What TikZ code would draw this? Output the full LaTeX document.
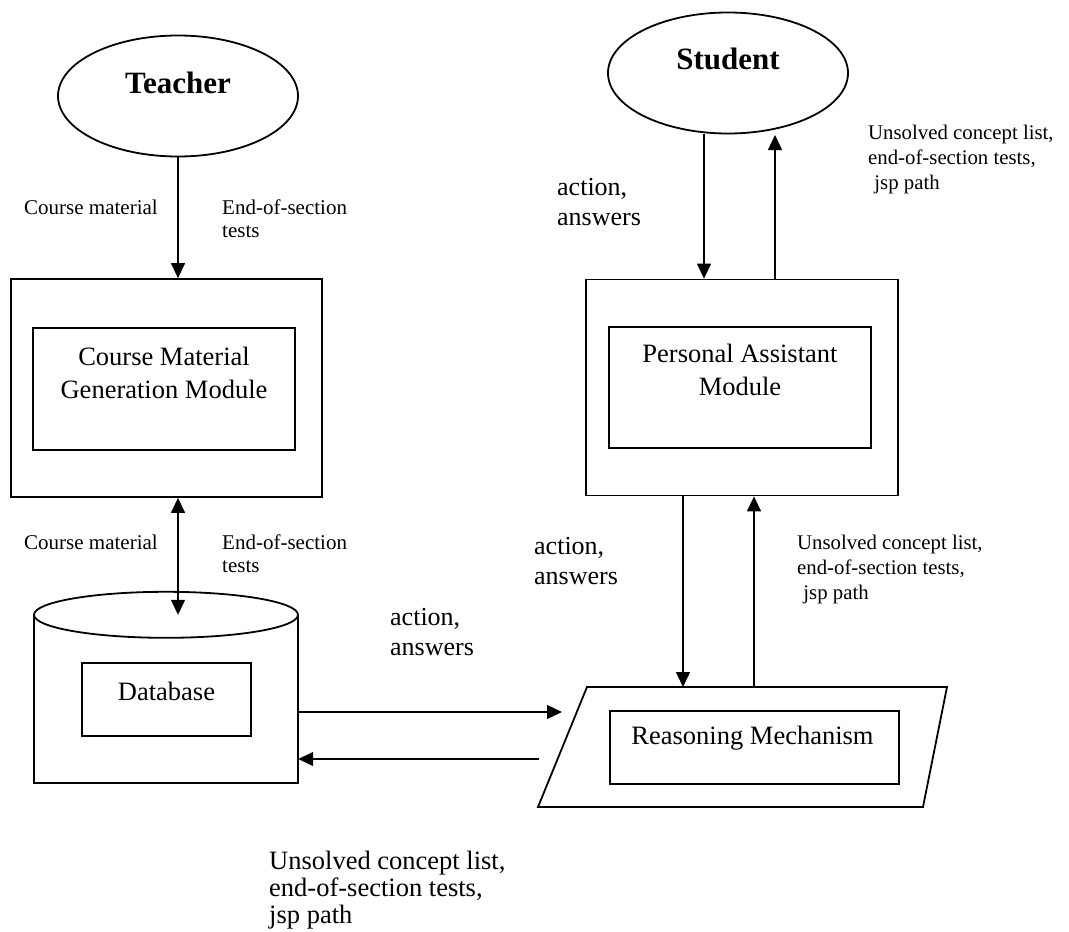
\documentclass[tikz,border=0pt]{standalone}
\usepackage{fontspec}
\setmainfont{Liberation Serif}
\usetikzlibrary{arrows.meta,shapes.geometric}
\begin{document}
\begin{tikzpicture}[x=1pt,y=-1pt,
  ink/.style={draw, line width=1.8pt},
  actor/.style={ink, ellipse, minimum width=240pt, minimum height=121pt, inner sep=0pt},
  frame/.style={ink, rectangle, inner sep=0pt},
  actortext/.style={inner sep=0pt, font=\bfseries\fontsize{31}{36}\selectfont},
  boxtext/.style={inner sep=0pt, align=center, font=\fontsize{26.5}{32.5}\selectfont},
  note/.style={inner sep=0pt, align=left, anchor=north west},
  fs21/.style={font=\fontsize{21}{23}\selectfont},
  fs20/.style={font=\fontsize{20.8}{25}\selectfont},
  fs26/.style={font=\fontsize{26}{29.5}\selectfont},
  fs26b/.style={font=\fontsize{26.5}{27.3}\selectfont},
  tip/.tip={Triangle[length=15pt,width=14pt]},
  flow/.style={line width=1.4pt, -tip},
  biflow/.style={line width=1.4pt, tip-tip}
]
\fill[white] (0,0) rectangle (1069,932);
\useasboundingbox (0,0) rectangle (1069,932);

% actors
\node[actor] (teacher) at (178,96) {};
\node[actortext] (teachertxt) at (178,83) {Teacher};
\node[actor] (student) at (728,73) {};
\node[actortext] (studenttxt) at (728,59) {Student};

% course material generation module
\node[frame, minimum width=311pt, minimum height=218pt] (cmg) at (166.5,388) {};
\node[frame, minimum width=262pt, minimum height=122pt] (cmgin) at (164,389) {};
\node[boxtext, anchor=north] (cmgtxt) at (164,347) {Course Material\\Generation Module};

% personal assistant module
\node[frame, minimum width=312pt, minimum height=216pt] (pa) at (742,387.5) {};
\node[frame, minimum width=262pt, minimum height=121pt] (pain) at (740,387.5) {};
\node[boxtext, anchor=north] (patxt) at (740,344) {Personal Assistant\\Module};

% database cylinder
\node[minimum width=264pt, minimum height=168pt, inner sep=0pt] (db) at (166,699) {};
\draw[ink] (db.north west) -- (db.south west) -- (db.south east) -- (db.north east);
\draw[ink, fill=white] (db.north) ellipse [x radius=132pt, y radius=23pt];
\node[frame, minimum width=169pt, minimum height=73pt] (dbin) at (166.5,699.5) {};
\node[boxtext] (dbtxt) at (166.5,691) {Database};

% reasoning mechanism
\coordinate (rmtl) at (587,687);
\coordinate (rmtr) at (947,687);
\coordinate (rmbr) at (923,807);
\coordinate (rmbl) at (538,807);
\draw[ink, line join=miter] (rmtl) -- (rmtr) -- (rmbr) -- (rmbl) -- cycle;
\node[frame, minimum width=289pt, minimum height=73pt] (rmin) at (754.5,747.5) {};
\node[boxtext] (rmtxt) at (752.5,738) {Reasoning Mechanism};

% connectors
\draw[flow] (teacher.south) -- (teacher.south |- cmg.north);
\draw[biflow] (teacher.south |- cmg.south) -- (teacher.south |- db.north);

\coordinate (sdown) at (704,134);
\coordinate (sup) at (775,135);
\draw[flow] (sdown) -- (sdown |- pa.north);
\draw[flow] (sup |- pa.north) -- (sup);

\coordinate (pdown) at (683,0);
\coordinate (pup) at (754,0);
\draw[flow] (pdown |- pa.south) -- (pdown |- rmtl);
\draw[flow] (pup |- rmtl) -- (pup |- pa.south);

\coordinate (rmentry) at (562,712);
\coordinate (rmexit) at (539,759);
\draw[flow] (db.east |- rmentry) -- (rmentry);
\draw[flow] (rmexit) -- (db.east |- rmexit);

% labels
\node[note, fs21] (l1) at (24,199.5) {Course material};
\node[note, fs21] (l2) at (222,199.5) {End-of-section\\tests};
\node[note, fs21] (l3) at (24,534.5) {Course material};
\node[note, fs21] (l4) at (222,534.5) {End-of-section\\tests};
\node[note, fs26] (l5) at (557,178.5) {action,\\answers};
\node[note, fs20] (l6) at (868,125) {Unsolved concept list,\\end-of-section tests,\\\hspace*{0.3em}jsp path};
\node[note, fs26] (l7) at (534,537.5) {action,\\answers};
\node[note, fs20] (l8) at (797,535) {Unsolved concept list,\\end-of-section tests,\\\hspace*{0.3em}jsp path};
\node[note, fs26] (l9) at (390,608.5) {action,\\answers};
\node[note, fs26b] (l10) at (269,850.5) {Unsolved concept list,\\end-of-section tests,\\jsp path};
\end{tikzpicture}
\end{document}
